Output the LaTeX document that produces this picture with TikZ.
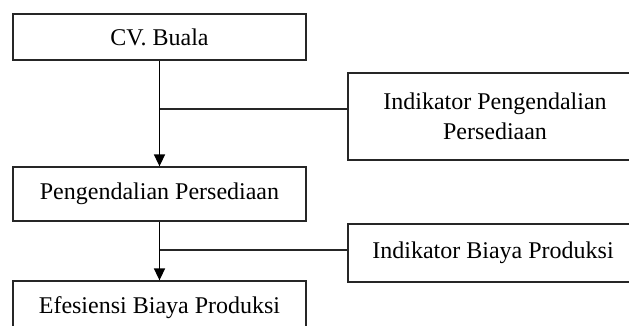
\documentclass[tikz,border=0pt]{standalone}
\usepackage{fontspec}
\setmainfont{Liberation Serif}
\usetikzlibrary{arrows.meta}
\begin{document}
\begin{tikzpicture}[x=1pt,y=-1pt,
  box/.style={draw=black!85, line width=1.3pt, rectangle, inner sep=0pt, align=center,
    font=\fontsize{24}{30}\selectfont, text=black},
  arr/.style={line width=1.6pt, -{Triangle[width=11pt,length=12pt]}},
  branch/.style={line width=1.2pt, draw=black!85}]
\useasboundingbox (0,0) rectangle (629,325);
\clip (0,0) rectangle (629,325);
\fill[white] (0,0) rectangle (629,325);
\node[box, minimum width=293pt, minimum height=46pt] (cv) at (159.5,37) {CV. Buala};
\node[box, minimum width=293pt, minimum height=54pt] (pp) at (159.5,194) {Pengendalian Persediaan};
\node[box, minimum width=293pt, minimum height=54pt] (eb) at (159.5,308) {Efesiensi Biaya Produksi};
\node[box, minimum width=294pt, minimum height=87pt] (i1) at (495,116.5) {Indikator Pengendalian\\Persediaan};
\node[box, minimum width=290pt, minimum height=58pt] (i2) at (493,253) {Indikator Biaya Produksi};
\coordinate (j1) at (160,109);
\coordinate (j2) at (160,250);
\draw[arr] (cv) -- (pp);
\draw[arr] (pp) -- (eb);
\draw[branch] (j1) -- (j1 -| i1.west);
\draw[branch] (j2) -- (j2 -| i2.west);
\end{tikzpicture}
\end{document}
